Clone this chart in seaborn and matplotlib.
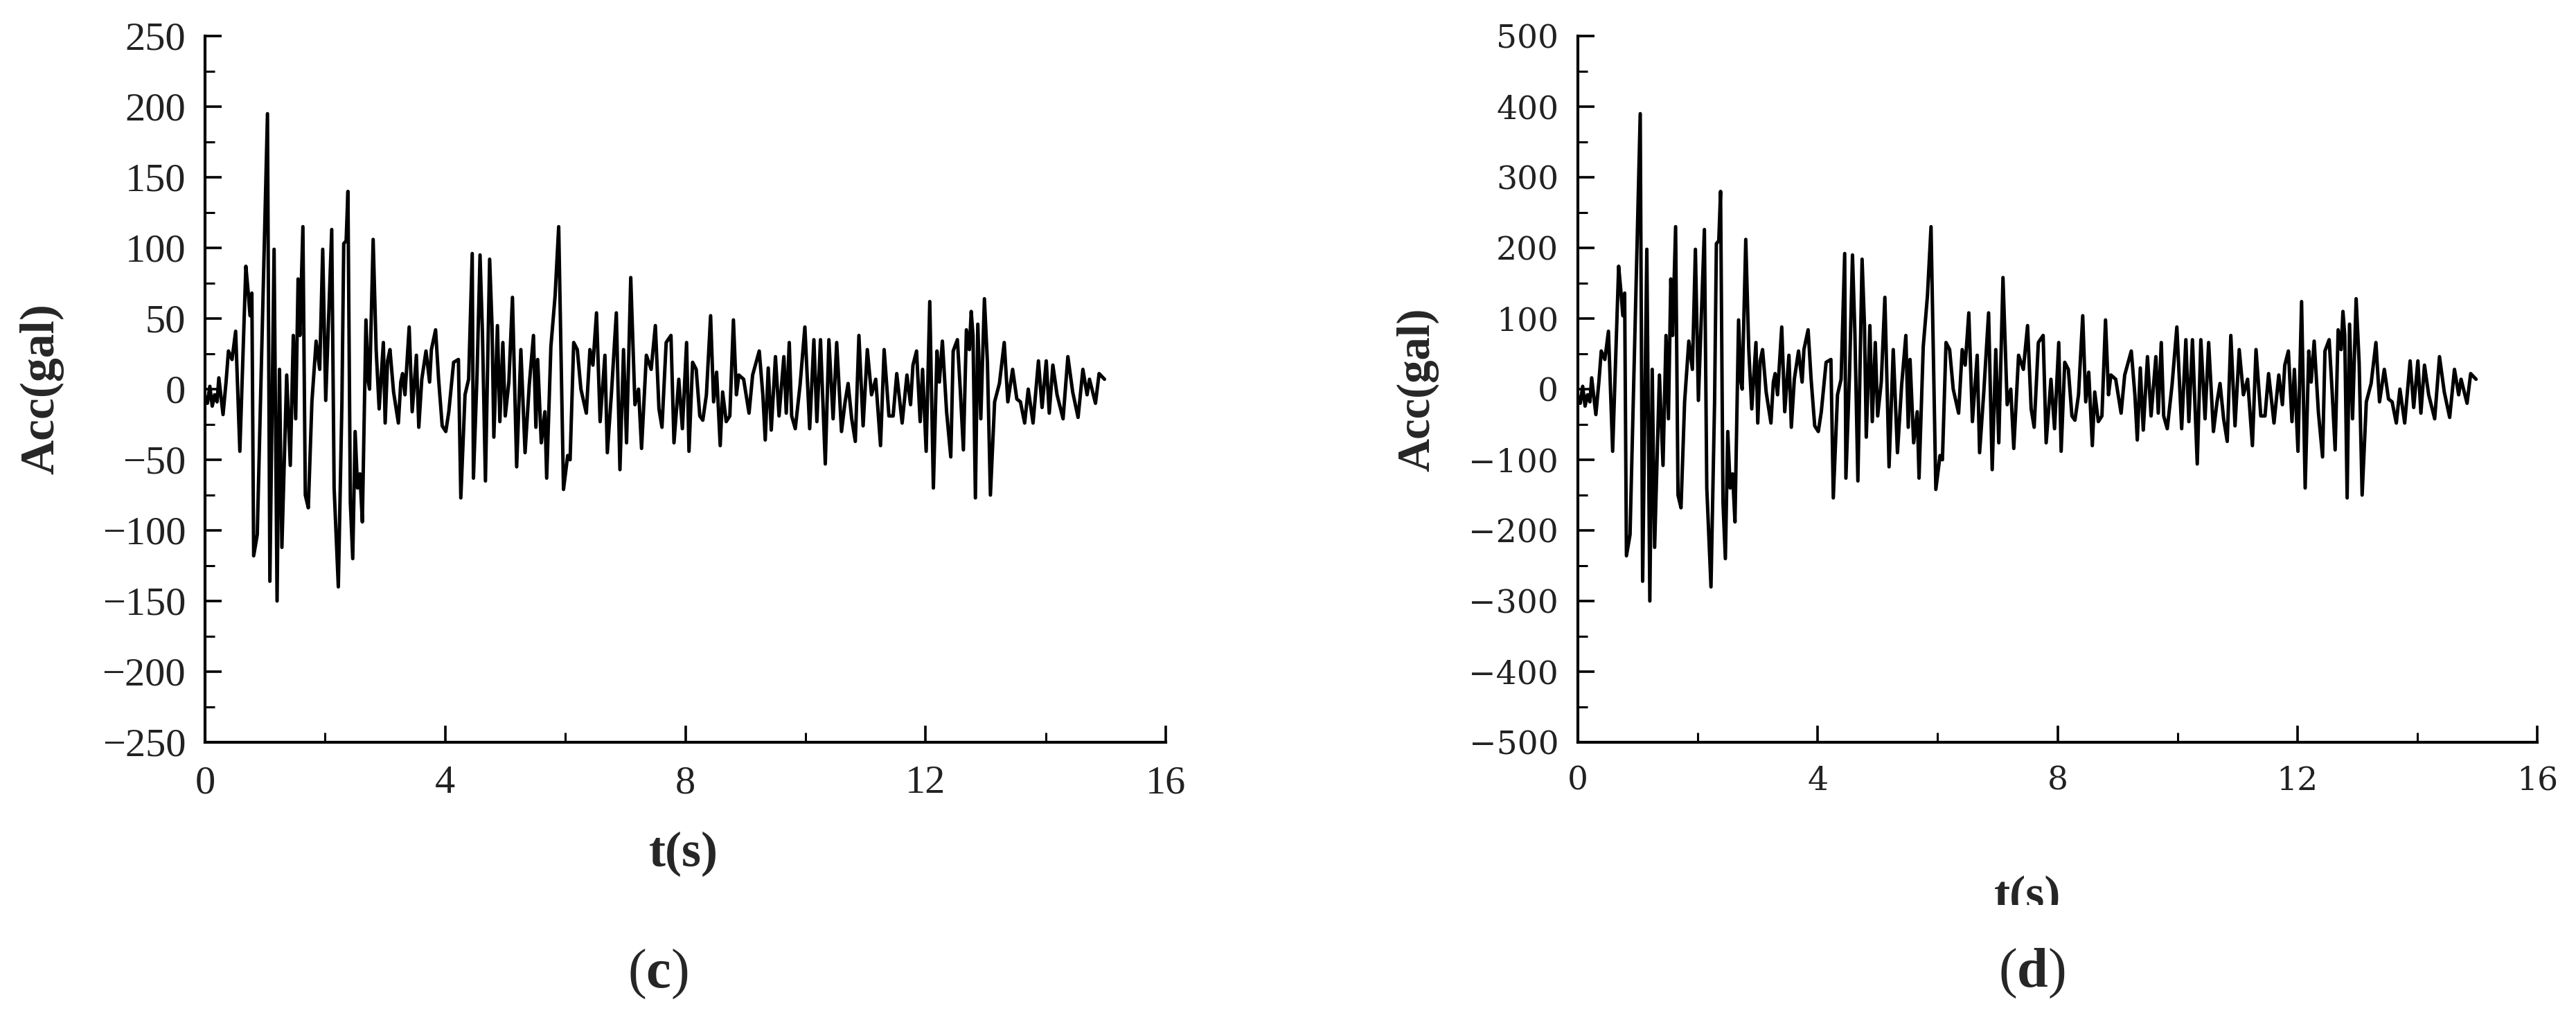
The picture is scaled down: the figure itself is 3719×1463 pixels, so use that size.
import numpy as np
import pandas as pd
import matplotlib
matplotlib.use("Agg")
import matplotlib.pyplot as plt
from matplotlib.patches import Rectangle
from matplotlib.ticker import MultipleLocator
import seaborn as sns

# ---------------- data ----------------
time_s = [
    0.00, 0.04, 0.08, 0.12, 0.16, 0.20, 0.23, 0.30, 0.35, 0.39, 0.45, 0.51, 0.58, 0.68, 0.72, 0.75,
    0.78, 0.81, 0.87, 1.04, 1.08, 1.15, 1.20, 1.24, 1.28, 1.36, 1.42, 1.47, 1.51, 1.55, 1.58, 1.63,
    1.67, 1.72, 1.78, 1.85, 1.91, 1.96, 2.01, 2.11, 2.15, 2.22, 2.28, 2.31, 2.35, 2.38, 2.42, 2.46,
    2.50, 2.54, 2.58, 2.62, 2.68, 2.72, 2.74, 2.80, 2.85, 2.90, 2.97, 3.00, 3.04, 3.08, 3.14, 3.22,
    3.26, 3.29, 3.33, 3.40, 3.45, 3.52, 3.56, 3.61, 3.68, 3.74, 3.77, 3.84, 3.89, 3.95, 4.01, 4.06,
    4.14, 4.22, 4.26, 4.33, 4.39, 4.45, 4.47, 4.53, 4.58, 4.62, 4.67, 4.74, 4.78, 4.81, 4.87, 4.91,
    4.96, 5.00, 5.06, 5.12, 5.19, 5.26, 5.33, 5.40, 5.47, 5.51, 5.54, 5.60, 5.66, 5.69, 5.76, 5.83,
    5.89, 5.97, 6.04, 6.08, 6.14, 6.20, 6.26, 6.35, 6.41, 6.46, 6.52, 6.58, 6.66, 6.70, 6.77, 6.85,
    6.91, 6.97, 7.02, 7.09, 7.16, 7.22, 7.27, 7.35, 7.43, 7.50, 7.56, 7.61, 7.68, 7.76, 7.81, 7.89,
    7.95, 8.02, 8.06, 8.12, 8.18, 8.24, 8.29, 8.35, 8.42, 8.47, 8.52, 8.58, 8.62, 8.68, 8.74, 8.80,
    8.85, 8.89, 8.97, 9.06, 9.12, 9.23, 9.29, 9.33, 9.38, 9.43, 9.50, 9.56, 9.64, 9.68, 9.73, 9.77,
    9.83, 9.91, 9.99, 10.07, 10.14, 10.19, 10.25, 10.33, 10.39, 10.46, 10.52, 10.60, 10.66, 10.71,
    10.77, 10.83, 10.89, 10.96, 11.03, 11.10, 11.17, 11.25, 11.31, 11.39, 11.46, 11.52, 11.61, 11.69,
    11.75, 11.79, 11.85, 11.91, 11.95, 12.01, 12.07, 12.13, 12.19, 12.23, 12.28, 12.35, 12.42, 12.46,
    12.53, 12.58, 12.63, 12.68, 12.73, 12.76, 12.79, 12.83, 12.87, 12.92, 12.98, 13.03, 13.08, 13.15,
    13.23, 13.31, 13.37, 13.45, 13.52, 13.58, 13.65, 13.71, 13.79, 13.88, 13.94, 14.01, 14.06, 14.12,
    14.19, 14.29, 14.37, 14.45, 14.54, 14.62, 14.69, 14.73, 14.83, 14.89, 14.98,
]

acc_c = [
    -5, -10, 2, -12, -4, -9, 8, -18, 5, 27, 21, 41, -44, 87, 68, 52,
    68, -118, -103, 195, -136, 99, -150, 14, -112, 10, -54, 38, -21, 78, 38, 115,
    -75, -84, -9, 34, 14, 99, -8, 113, -70, -140, -9, 103, 105, 140, -80, -120,
    -30, -70, -60, -94, 49, 5, 0, 106, 28, -14, 33, -24, 20, 28, -2, -24,
    5, 11, -4, 44, -16, 24, -27, 7, 27, 5, 28, 42, 7, -26, -30, -16,
    19, 21, -77, -4, 7, 96, -63, 10, 95, 40, -65, 92, 45, -34, 45, -23,
    33, -19, 5, 65, -55, 28, -45, 3, 38, -27, 21, -38, -16, -63, 30, 66,
    115, -71, -47, -50, 33, 28, 0, -17, 28, 17, 54, -23, 24, -45, -2, 54,
    -57, 28, -38, 79, -11, 0, -42, 24, 14, 45, -14, -27, 33, 38, -38, 7,
    -28, 33, -44, 19, 14, -19, -22, -4, 52, -9, 12, -40, -2, -23, -19, 49,
    -4, 10, 7, -17, 10, 27, -4, -36, 15, -29, 23, -19, 23, -17, 33, -19,
    -28, 3, 44, -28, 35, -23, 35, -53, 35, -21, 33, -30, -9, 4,
    -21, -37, 38, -26, 28, -4, 7, -40, 28, -19, -19, 11, -24, 10,
    -11, 17, 27, -23, 14, -44, 62, -70, 27, 5, 34, -16, -48, 27,
    35, -2, -43, 42, 28, 55, 38, -77, 46, -21, 64, 19, -75, -9,
    4, 33, -9, 14, -7, -9, -24, 0, -24, 20, -13, 20, -17, 17,
    -4, -21, 23, -2, -20, 14, -4, 7, -10, 11, 7,
]

acc_d = [
    -10, -20, 4, -24, -8, -18, 16, -36, 10, 54, 42, 82, -88, 174, 136, 104,
    136, -236, -206, 390, -272, 198, -300, 28, -224, 20, -108, 76, -42, 156, 76, 230,
    -150, -168, -18, 68, 28, 198, -16, 226, -140, -280, -18, 206, 210, 280, -160, -240,
    -60, -140, -120, -188, 98, 10, 0, 212, 56, -28, 66, -48, 40, 56, -4, -48,
    10, 22, -8, 88, -32, 48, -54, 14, 54, 10, 56, 84, 14, -52, -60, -32,
    38, 42, -154, -8, 14, 192, -126, 20, 190, 80, -130, 184, 90, -68, 90, -46,
    66, -38, 10, 130, -110, 56, -90, 6, 76, -54, 42, -76, -32, -126, 60, 132,
    230, -142, -94, -100, 66, 56, 0, -34, 56, 34, 108, -46, 48, -90, -4, 108,
    -114, 56, -76, 158, -22, 0, -84, 48, 28, 90, -28, -54, 66, 76, -76, 14,
    -56, 66, -88, 38, 28, -38, -44, -8, 104, -18, 24, -80, -4, -46, -38, 98,
    -8, 20, 14, -34, 20, 54, -8, -72, 30, -58, 46, -38, 46, -34, 66, -38,
    -56, 6, 88, -56, 70, -46, 70, -106, 70, -42, 66, -60, -18, 8,
    -42, -74, 76, -52, 56, -8, 14, -80, 56, -38, -38, 22, -48, 20,
    -22, 34, 54, -46, 28, -88, 124, -140, 54, 10, 68, -32, -96, 54,
    70, -4, -86, 84, 56, 110, 76, -154, 92, -42, 128, 38, -150, -18,
    8, 66, -18, 28, -14, -18, -48, 0, -48, 40, -26, 40, -34, 34,
    -8, -42, 46, -4, -40, 28, -8, 14, -20, 22, 14,
]

x_ticks = [0, 4, 8, 12, 16]
y_ticks_c = [-250, -200, -150, -100, -50, 0, 50, 100, 150, 200, 250]
y_ticks_d = [-500, -400, -300, -200, -100, 0, 100, 200, 300, 400, 500]
x_label = "t(s)"
y_label = "Acc(gal)"
panel_labels = ["c", "d"]

# ---------------- style ----------------
sns.set_theme(style="ticks")
plt.rcParams["font.family"] = ["Liberation Serif", "DejaVu Serif"]
plt.rcParams["mathtext.fontset"] = "custom"
plt.rcParams["mathtext.rm"] = "Liberation Serif"
plt.rcParams["mathtext.bf"] = "Liberation Serif:bold"

W, H = 3719, 1463
fig = plt.figure(figsize=(W / 100, H / 100), dpi=100)
fig.patch.set_facecolor("white")


def px_box(x0, y0, x1, y1):
    return [x0 / W, 1 - y1 / H, (x1 - x0) / W, (y1 - y0) / H]


ax_c = fig.add_axes(px_box(296, 52, 1683, 1072))
ax_d = fig.add_axes(px_box(2278, 52, 3663, 1072))

df_c = pd.DataFrame({"t": time_s, "acc": acc_c})
df_d = pd.DataFrame({"t": time_s, "acc": acc_d})

sns.lineplot(data=df_c, x="t", y="acc", ax=ax_c, color="black", linewidth=3.6, estimator=None)
sns.lineplot(data=df_d, x="t", y="acc", ax=ax_d, color="black", linewidth=3.6, estimator=None)

for ax, yt, ylim, yminor, tick_font, tick_size in [
    (ax_c, y_ticks_c, (-250, 250), 25, "Liberation Serif", 42),
    (ax_d, y_ticks_d, (-500, 500), 50, "DejaVu Serif", 34),
]:
    ax.set_xlim(0, 16)
    ax.set_ylim(*ylim)
    ax.set_xticks(x_ticks)
    ax.set_yticks(yt)
    ax.xaxis.set_minor_locator(MultipleLocator(2))
    ax.yaxis.set_minor_locator(MultipleLocator(yminor))
    ax.set_xticklabels([str(v) for v in x_ticks])
    ax.set_yticklabels([("\u2212" + str(-v)) if v < 0 else str(v) for v in yt])
    for lab in ax.get_xticklabels() + ax.get_yticklabels():
        lab.set_fontfamily(tick_font)
        lab.set_fontsize(tick_size)
        lab.set_color("#222222")
    ax.tick_params(which="major", direction="in", length=17, width=2.6, pad=20, color="black")
    ax.tick_params(which="minor", direction="in", length=10, width=2.2, color="black")
    ax.tick_params(axis="x", which="major", pad=24)
    for side in ["top", "right"]:
        ax.spines[side].set_visible(False)
    for side in ["left", "bottom"]:
        ax.spines[side].set_linewidth(3.0)
        ax.spines[side].set_color("black")
    ax.set_xlabel("")
    ax.set_ylabel("")
    ax.set_facecolor("white")
    ax.grid(False)

# axis titles
fig.text(60 / W, 1 - 562 / H, y_label, rotation=90, ha="center", va="center",
         fontsize=50, fontweight="bold", family="Liberation Serif")
fig.text(2047 / W, 1 - 563 / H, y_label, rotation=90, ha="center", va="center",
         fontsize=48, fontweight="bold", family="Liberation Serif")
fig.text(987 / W, 1 - 1233 / H, x_label, ha="center", va="center",
         fontsize=52, fontweight="bold", family="Liberation Serif")
fig.text(2927 / W, 1 - 1264 / H, x_label, ha="center", va="top",
         fontsize=50, fontweight="bold", family="Liberation Serif")
# the reference crops the lower part of the right x-axis title
fig.patches.append(Rectangle((2840 / W, 1 - 1345 / H), 180 / W, 38 / H,
                             transform=fig.transFigure, facecolor="white",
                             edgecolor="none", zorder=20))

# panel captions
fig.text(950 / W, 1 - 1407 / H, "(" + r"$\mathbf{" + panel_labels[0] + "}$" + ")",
         ha="center", va="center", fontsize=58, family="Liberation Serif")
fig.text(2933 / W, 1 - 1406 / H, "(" + r"$\mathbf{" + panel_labels[1] + "}$" + ")",
         ha="center", va="center", fontsize=58, family="Liberation Serif")

fig.savefig("out.png", dpi=100, facecolor="white")
